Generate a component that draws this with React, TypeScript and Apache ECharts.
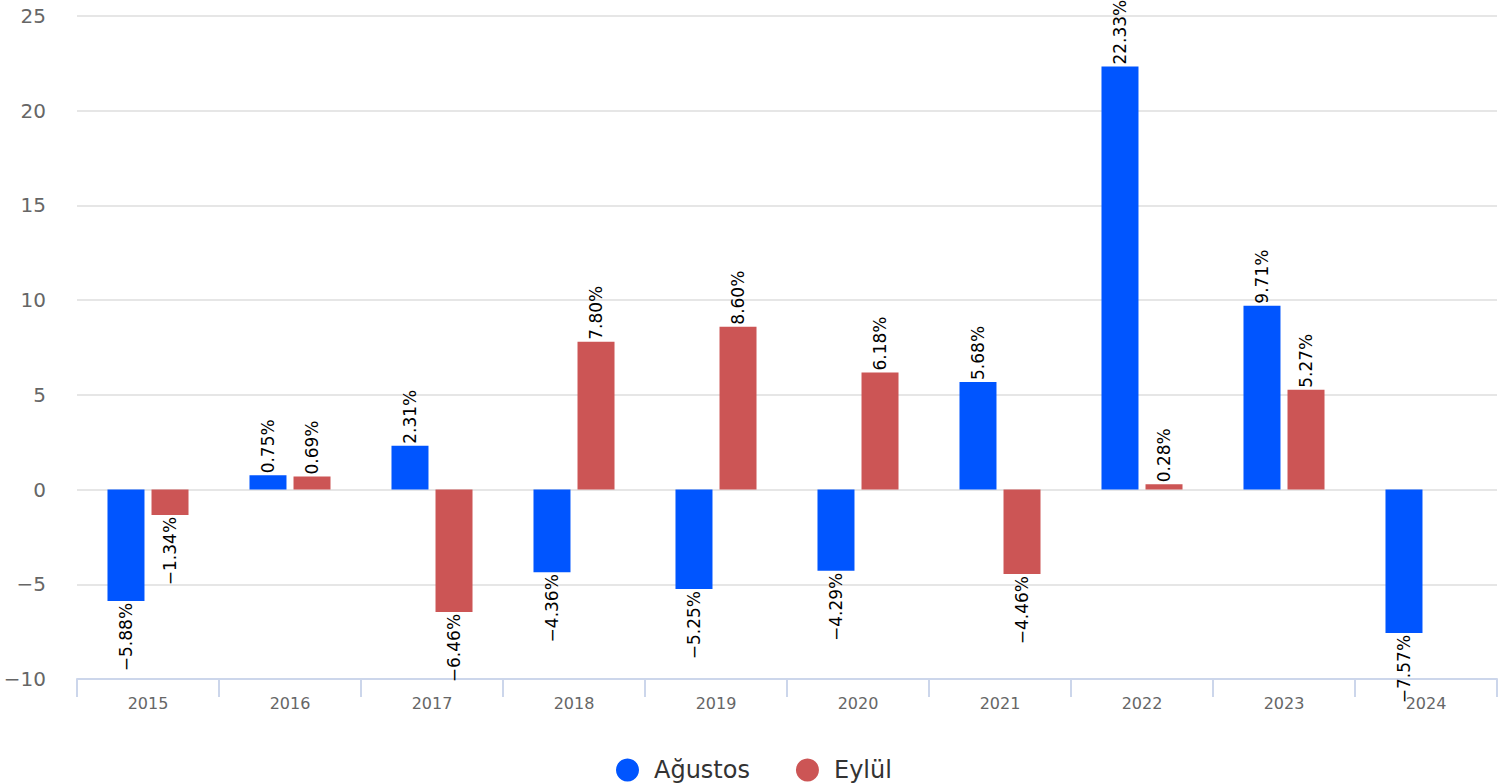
import React, { useEffect, useRef } from "react";
import * as echarts from "echarts";

const years = ["2015", "2016", "2017", "2018", "2019", "2020", "2021", "2022", "2023", "2024"];
const agustos: (number | null)[] = [-5.88, 0.75, 2.31, -4.36, -5.25, -4.29, 5.68, 22.33, 9.71, -7.57];
const eylul: (number | null)[] = [-1.34, 0.69, -6.46, 7.8, 8.6, 6.18, -4.46, 0.28, 5.27, null];
const seriesNames = ["Ağustos", "Eylül"];
const colors = ["#0055ff", "#cc5555"];

const FONT = "DejaVu Sans, sans-serif";

function buildData(values: (number | null)[]) {
  return values.map((v) => {
    if (v === null) return null;
    const pos = v >= 0;
    return {
      value: v,
      label: {
        show: true,
        position: pos ? "top" : "bottom",
        rotate: 90,
        align: pos ? "left" : "right",
        verticalAlign: "middle",
        distance: 2,
        fontSize: 17,
        fontFamily: FONT,
        color: "#000",
        formatter: () => v.toFixed(2).replace("-", "\u2212") + "%",
      },
    };
  });
}

export default function App() {
  const ref = useRef<HTMLDivElement>(null);
  useEffect(() => {
    if (!ref.current) return;
    const chart = echarts.init(ref.current, undefined, { renderer: "svg" });
    chart.setOption({
      animation: false,
      backgroundColor: "#fff",
      grid: { left: 77, right: 3, top: 16, bottom: 105, containLabel: false },
      legend: {
        left: 611,
        top: 753,
        icon: "circle",
        itemWidth: 23,
        itemHeight: 23,
        itemGap: 46,
        textStyle: { fontSize: 24, fontFamily: FONT, color: "#333", padding: [0, 0, 0, 10] },
        data: seriesNames,
      },
      xAxis: {
        type: "category",
        data: years,
        axisLine: { show: true, onZero: false, lineStyle: { color: "#ccd6eb", width: 2 } },
        axisTick: { show: true, length: 18, alignWithLabel: false, lineStyle: { color: "#ccd6eb", width: 2 } },
        axisLabel: { fontSize: 16, fontFamily: FONT, color: "#666", margin: 16 },
        splitLine: { show: false },
      },
      yAxis: {
        type: "value",
        min: -10,
        max: 25,
        interval: 5,
        axisLine: { show: false },
        axisTick: { show: false },
        axisLabel: {
          fontSize: 20,
          fontFamily: FONT,
          color: "#666",
          margin: 31,
          formatter: (v: number) => String(v).replace("-", "\u2212"),
        },
        splitLine: { show: true, lineStyle: { color: "#e6e6e6", width: 2 } },
      },
      series: [
        {
          name: seriesNames[0],
          type: "bar",
          data: buildData(agustos),
          itemStyle: { color: colors[0] },
          barWidth: 37,
          barGap: "19%",
        },
        {
          name: seriesNames[1],
          type: "bar",
          data: buildData(eylul),
          itemStyle: { color: colors[1] },
          barWidth: 37,
          barGap: "19%",
        },
      ],
    });
    return () => chart.dispose();
  }, []);
  return (
    <div
      ref={ref}
      style={{ position: "fixed", left: 0, top: 0, width: 1500, height: 784, background: "#fff" }}
    />
  );
}
